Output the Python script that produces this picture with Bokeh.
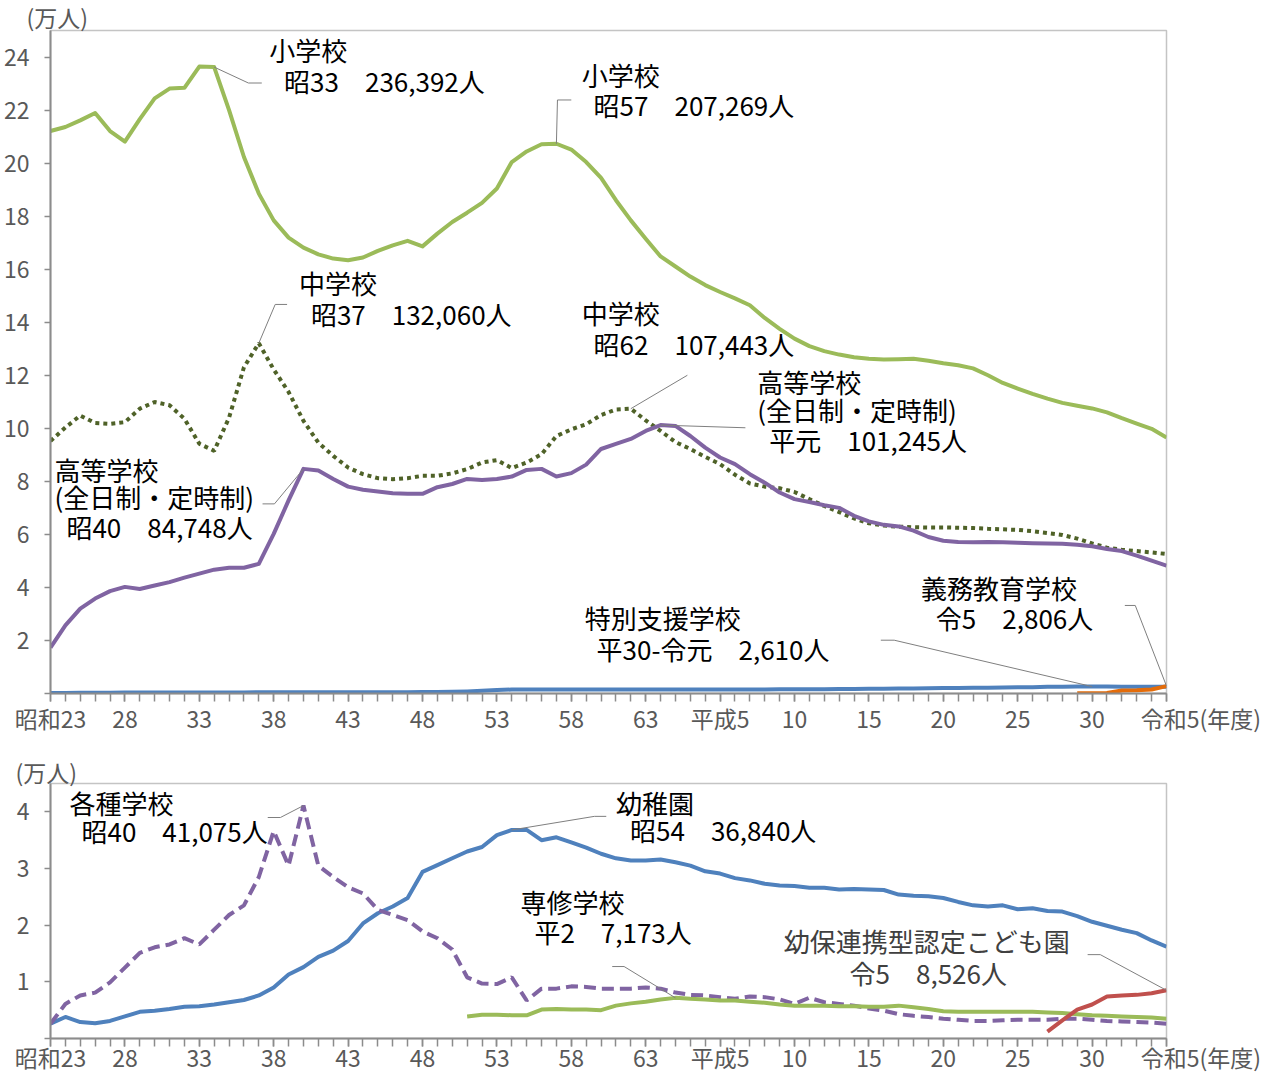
from bokeh.plotting import figure
from bokeh.models import Range1d, FixedTicker
from bokeh.layouts import column
from bokeh.core.properties import value
from bokeh.embed import file_html
from bokeh.resources import INLINE

# ---------------- data ----------------
YEARS = list(range(1948, 2024))  # 昭和23 .. 令和5
X_TICKS = [1948, 1953, 1958, 1963, 1968, 1973, 1978, 1983, 1988, 1993, 1998, 2003, 2008, 2013, 2018, 2023]
X_TICK_LABELS = ["昭和23", "28", "33", "38", "43", "48", "53", "58", "63", "平成5",
                 "10", "15", "20", "25", "30", "　　　令和5(年度)"]
TOP_Y_TICKS = [0, 2, 4, 6, 8, 10, 12, 14, 16, 18, 20, 22, 24]
BOTTOM_Y_TICKS = [0, 1, 2, 3, 4]
Y_UNIT = "(万人)"

# 万人
ELEMENTARY = [
    21.21, 21.36, 21.61, 21.89, 21.21, 20.81, 21.66, 22.44, 22.81, 22.84,   # 1948-57
    23.64, 23.62, 22.00, 20.23, 18.85, 17.84, 17.19, 16.81, 16.56, 16.40,   # 1958-67
    16.34, 16.44, 16.69, 16.90, 17.07, 16.86, 17.34, 17.78, 18.13, 18.50,   # 1968-77
    19.04, 20.04, 20.44, 20.71, 20.73, 20.51, 20.04, 19.44, 18.60, 17.84,   # 1978-87
    17.15, 16.48, 16.10, 15.72, 15.40, 15.14, 14.90, 14.64, 14.16, 13.75,   # 1988-97
    13.38, 13.10, 12.91, 12.78, 12.68, 12.62, 12.59, 12.60, 12.62, 12.55,   # 1998-2007
    12.45, 12.38, 12.26, 12.00, 11.71, 11.50, 11.30, 11.12, 10.96, 10.85,   # 2008-17
    10.75, 10.60, 10.38, 10.18, 9.98, 9.65,                                 # 2018-23
]
JUNIOR_HIGH = [
    9.52, 10.03, 10.48, 10.20, 10.17, 10.23, 10.74, 10.99, 10.87, 10.36,
    9.42, 9.15, 10.40, 12.30, 13.21, 12.22, 11.37, 10.28, 9.46, 8.96,
    8.52, 8.27, 8.12, 8.08, 8.12, 8.21, 8.21, 8.30, 8.46, 8.71,
    8.80, 8.50, 8.71, 9.02, 9.71, 9.96, 10.15, 10.50, 10.71, 10.74,
    10.30, 9.90, 9.48, 9.22, 8.92, 8.65, 8.25, 7.92, 7.80, 7.74,
    7.60, 7.33, 7.07, 6.84, 6.60, 6.42, 6.33, 6.29, 6.27, 6.26,
    6.26, 6.25, 6.24, 6.21, 6.19, 6.17, 6.12, 6.05, 5.98, 5.84,
    5.66, 5.50, 5.42, 5.37, 5.32, 5.26,
]
HIGH_SCHOOL = [
    1.73, 2.57, 3.20, 3.58, 3.86, 4.02, 3.94, 4.07, 4.20, 4.37,
    4.52, 4.67, 4.74, 4.74, 4.89, 6.02, 7.28, 8.47, 8.41, 8.09,
    7.80, 7.68, 7.62, 7.55, 7.53, 7.53, 7.78, 7.90, 8.09, 8.05,
    8.09, 8.18, 8.43, 8.47, 8.18, 8.31, 8.63, 9.22, 9.41, 9.60,
    9.90, 10.12, 10.09, 9.71, 9.27, 8.90, 8.65, 8.27, 7.95, 7.58,
    7.33, 7.22, 7.10, 7.00, 6.70, 6.49, 6.36, 6.30, 6.14, 5.90,
    5.76, 5.71, 5.70, 5.71, 5.70, 5.68, 5.67, 5.66, 5.65, 5.61,
    5.55, 5.45, 5.37, 5.20, 5.01, 4.82,
]
SPECIAL_NEEDS = [
    0.02, 0.02, 0.03, 0.03, 0.03, 0.04, 0.04, 0.04, 0.04, 0.04,
    0.04, 0.04, 0.04, 0.04, 0.05, 0.05, 0.05, 0.05, 0.05, 0.05,
    0.05, 0.05, 0.05, 0.05, 0.05, 0.06, 0.06, 0.07, 0.08, 0.10,
    0.13, 0.15, 0.15, 0.15, 0.15, 0.15, 0.15, 0.15, 0.15, 0.15,
    0.15, 0.15, 0.15, 0.15, 0.15, 0.15, 0.15, 0.15, 0.15, 0.16,
    0.16, 0.16, 0.16, 0.17, 0.17, 0.18, 0.18, 0.19, 0.19, 0.20,
    0.21, 0.21, 0.22, 0.22, 0.23, 0.24, 0.24, 0.25, 0.25, 0.26,
    0.261, 0.261, 0.258, 0.256, 0.255, 0.254,
]
COMPULSORY_YEARS = [2017, 2018, 2019, 2020, 2021, 2022, 2023]
COMPULSORY = [0.01, 0.01, 0.02, 0.11, 0.12, 0.15, 0.28]

KINDERGARTEN = [
    0.26, 0.38, 0.29, 0.27, 0.31, 0.39, 0.47, 0.49, 0.52, 0.56,
    0.57, 0.60, 0.64, 0.68, 0.76, 0.90, 1.13, 1.26, 1.44, 1.55,
    1.72, 2.03, 2.21, 2.33, 2.48, 2.94, 3.06, 3.18, 3.30, 3.38,
    3.59, 3.68, 3.68, 3.50, 3.55, 3.46, 3.37, 3.26, 3.18, 3.14,
    3.14, 3.16, 3.11, 3.05, 2.95, 2.91, 2.83, 2.79, 2.73, 2.70,
    2.69, 2.66, 2.66, 2.63, 2.64, 2.63, 2.62, 2.54, 2.52, 2.51,
    2.48, 2.41, 2.35, 2.33, 2.35, 2.28, 2.30, 2.25, 2.24, 2.16,
    2.06, 1.99, 1.92, 1.86, 1.73, 1.62,
]
MISC_SCHOOL = [
    0.26, 0.61, 0.76, 0.81, 0.99, 1.25, 1.51, 1.61, 1.66, 1.77,
    1.66, 1.92, 2.18, 2.35, 2.85, 3.66, 3.05, 4.11, 3.05, 2.85,
    2.67, 2.56, 2.27, 2.18, 2.09, 1.89, 1.77, 1.57, 1.08, 0.97,
    0.96, 1.08, 0.67, 0.88, 0.88, 0.92, 0.91, 0.88, 0.88, 0.88,
    0.90, 0.88, 0.81, 0.77, 0.76, 0.73, 0.70, 0.74, 0.73, 0.69,
    0.61, 0.72, 0.64, 0.61, 0.58, 0.53, 0.49, 0.43, 0.40, 0.38,
    0.35, 0.33, 0.31, 0.31, 0.32, 0.33, 0.33, 0.33, 0.35, 0.35,
    0.33, 0.31, 0.30, 0.29, 0.28, 0.26,
]
SENSHU_YEARS = list(range(1976, 2024))
SENSHU = [
    0.39, 0.42, 0.42, 0.41, 0.41, 0.51, 0.52, 0.51, 0.51, 0.50,
    0.58, 0.62, 0.65, 0.69, 0.717, 0.70, 0.69, 0.67, 0.67, 0.65,
    0.63, 0.60, 0.58, 0.58, 0.58, 0.57, 0.57, 0.56, 0.56, 0.58,
    0.55, 0.52, 0.48, 0.47, 0.47, 0.47, 0.47, 0.47, 0.47, 0.46,
    0.45, 0.43, 0.41, 0.40, 0.39, 0.38, 0.37, 0.35,
]
KODOMOEN_YEARS = [2015, 2016, 2017, 2018, 2019, 2020, 2021, 2022, 2023]
KODOMOEN = [0.12, 0.32, 0.51, 0.60, 0.74, 0.76, 0.77, 0.80, 0.85]

# ---------------- styling ----------------
FONT = "Noto Sans CJK JP"
TICK_COLOR = "#595959"
AXIS_COLOR = "#8c8c8c"
LEADER_COLOR = "#7f7f7f"

GREEN = "#9BBB59"
OLIVE = "#4F6228"
PURPLE = "#8064A2"
BLUE = "#4F81BD"
ORANGE = "#E46C0A"
RED = "#C0504D"

SERIES = {
    "elem": (YEARS, ELEMENTARY),
    "jhs": (YEARS, JUNIOR_HIGH),
    "hs": (YEARS, HIGH_SCHOOL),
    "special": (YEARS, SPECIAL_NEEDS),
    "compulsory": (COMPULSORY_YEARS, COMPULSORY),
    "kinder": (YEARS, KINDERGARTEN),
    "misc": (YEARS, MISC_SCHOOL),
    "senshu": (SENSHU_YEARS, SENSHU),
    "kodomo": (KODOMOEN_YEARS, KODOMOEN),
}

# callouts: anchor series/year, elbow path (data coords), text lines (x, y top, text)
TOP_CALLOUTS = [
    dict(series="elem", year=1959, path=[(1961.3, 23.02), (1962.2, 23.02)],
         lines=[(1962.7, 24.98, "小学校"), (1963.7, 23.81, "昭33　236,392人")]),
    dict(series="elem", year=1982, path=[(1982.07, 22.38), (1983.0, 22.38)],
         lines=[(1983.7, 24.04, "小学校"), (1984.5, 22.91, "昭57　207,269人")]),
    dict(series="jhs", year=1962, path=[(1963.1, 14.67), (1963.9, 14.67)],
         lines=[(1964.7, 16.18, "中学校"), (1965.5, 15.01, "昭37　132,060人")]),
    dict(series="jhs", year=1987, path=[(1990.8, 12.0)],
         lines=[(1983.7, 15.05, "中学校"), (1984.5, 13.89, "昭62　107,443人")]),
    dict(series="hs", year=1989, path=[(1994.7, 10.02)],
         lines=[(1995.5, 12.46, "高等学校"), (1995.5, 11.40, "(全日制・定時制)"),
                (1996.3, 10.28, "平元　101,245人")]),
    dict(series="hs", year=1965, path=[(1963.05, 7.15), (1962.25, 7.15)],
         lines=[(1948.27, 9.15, "高等学校"), (1948.27, 8.13, "(全日制・定時制)"),
                (1949.07, 7.00, "昭40　84,748人")]),
    dict(series="special", year=2018, path=[(2004.7, 2.01), (2003.8, 2.01)],
         lines=[(1983.9, 3.58, "特別支援学校"), (1984.7, 2.38, "平30-令元　2,610人")]),
    dict(series="compulsory", year=2023, path=[(2020.9, 3.32), (2020.2, 3.32)],
         lines=[(2006.5, 4.71, "義務教育学校"), (2007.5, 3.58, "令5　2,806人")]),
]
BOTTOM_CALLOUTS = [
    dict(series="misc", year=1965, path=[(1963.45, 3.90), (1962.6, 3.90)],
         lines=[(1949.27, 4.49, "各種学校"), (1950.08, 3.99, "昭40　41,075人")]),
    dict(series="kinder", year=1979, path=[(1984.55, 3.92), (1985.35, 3.92)],
         lines=[(1986.0, 4.49, "幼稚園"), (1986.95, 4.02, "昭54　36,840人")]),
    dict(series="senshu", year=1990, path=[(1986.55, 1.27), (1985.75, 1.27)],
         lines=[(1979.58, 2.75, "専修学校"), (1980.52, 2.22, "平2　7,173人")]),
    dict(series="kodomo", year=2023, path=[(2018.55, 1.48), (2017.7, 1.48)],
         lines=[(1997.28, 2.05, "幼保連携型認定こども園"), (2001.7, 1.49, "令5　8,526人")],
         color="#404040"),
]


def style_axes(p, y_ticks, unit_offset, unit_standoff, x_standoff):
    p.xgrid.visible = False
    p.ygrid.visible = False
    p.outline_line_color = "#c4c4c4"
    p.outline_line_width = 1.5
    # unit label "(万人)" drawn as the figure title, top-left
    p.title.text = Y_UNIT
    p.title.align = "left"
    p.title.offset = unit_offset
    p.title.standoff = unit_standoff
    p.title.text_font = FONT
    p.title.text_font_size = "23px"
    p.title.text_font_style = "normal"
    p.title.text_color = TICK_COLOR
    xa = p.xaxis[0]
    xa.ticker = FixedTicker(ticks=X_TICKS, minor_ticks=YEARS)
    xa.major_label_overrides = {t: l for t, l in zip(X_TICKS, X_TICK_LABELS)}
    xa.major_tick_out = 8
    xa.major_tick_in = 0
    xa.minor_tick_out = 8
    xa.minor_tick_in = 0
    xa.major_label_standoff = x_standoff
    ya = p.yaxis[0]
    ya.ticker = FixedTicker(ticks=y_ticks, minor_ticks=[])
    ya.major_label_overrides = {0: ""}
    ya.major_tick_out = 6
    ya.major_tick_in = 0
    ya.major_label_standoff = 15
    for ax in (xa, ya):
        ax.axis_line_color = AXIS_COLOR
        ax.axis_line_width = 2
        ax.major_tick_line_color = AXIS_COLOR
        ax.minor_tick_line_color = AXIS_COLOR
        ax.major_tick_line_width = 1.5
        ax.minor_tick_line_width = 1.5
        ax.major_label_text_font = FONT
        ax.major_label_text_font_size = "23px"
        ax.major_label_text_color = TICK_COLOR


def draw_callouts(p, callouts):
    for c in callouts:
        xs_s, ys_s = SERIES[c["series"]]
        ax, ay = c["year"], ys_s[xs_s.index(c["year"])]
        xs = [ax] + [pt[0] for pt in c["path"]]
        ys = [ay] + [pt[1] for pt in c["path"]]
        p.line(xs, ys, line_color=LEADER_COLOR, line_width=1)
        p.text(x=[l[0] for l in c["lines"]], y=[l[1] for l in c["lines"]],
               text=[l[2] for l in c["lines"]],
               text_font=value(FONT), text_font_size="26px",
               text_color=c.get("color", "#000000"),
               text_align="left", text_baseline="top")


# ---------------- top chart ----------------
p1 = figure(width=1280, height=756, x_range=Range1d(1948, 2023), y_range=Range1d(0, 25),
            output_backend="svg", toolbar_location=None,
            min_border_left=48, min_border_right=111, min_border_top=30, min_border_bottom=63)
style_axes(p1, TOP_Y_TICKS, -24, -7, -1)

p1.line(YEARS, ELEMENTARY, line_color=GREEN, line_width=4, line_join="round")
p1.line(YEARS, JUNIOR_HIGH, line_color=OLIVE, line_width=4, line_dash="4 4")
p1.line(YEARS, HIGH_SCHOOL, line_color=PURPLE, line_width=4, line_join="round")
p1.line(YEARS, SPECIAL_NEEDS, line_color=BLUE, line_width=4, line_join="round")
p1.line(COMPULSORY_YEARS, COMPULSORY, line_color=ORANGE, line_width=4, line_join="round")
draw_callouts(p1, TOP_CALLOUTS)

# ---------------- bottom chart ----------------
p2 = figure(width=1280, height=320, x_range=Range1d(1948, 2023), y_range=Range1d(0, 4.5),
            output_backend="svg", toolbar_location=None,
            min_border_left=47, min_border_right=114, min_border_top=27, min_border_bottom=34)
style_axes(p2, BOTTOM_Y_TICKS, -35, -10, -7)

p2.line(YEARS, KINDERGARTEN, line_color=BLUE, line_width=4, line_join="round")
p2.line(YEARS, MISC_SCHOOL, line_color=PURPLE, line_width=4, line_dash="12 6")
p2.line(SENSHU_YEARS, SENSHU, line_color=GREEN, line_width=4, line_join="round")
p2.line(KODOMOEN_YEARS, KODOMOEN, line_color=RED, line_width=4, line_join="round")
draw_callouts(p2, BOTTOM_CALLOUTS)

layout = column(p1, p2, spacing=0)
open("out.html", "w").write(file_html(layout, INLINE))
